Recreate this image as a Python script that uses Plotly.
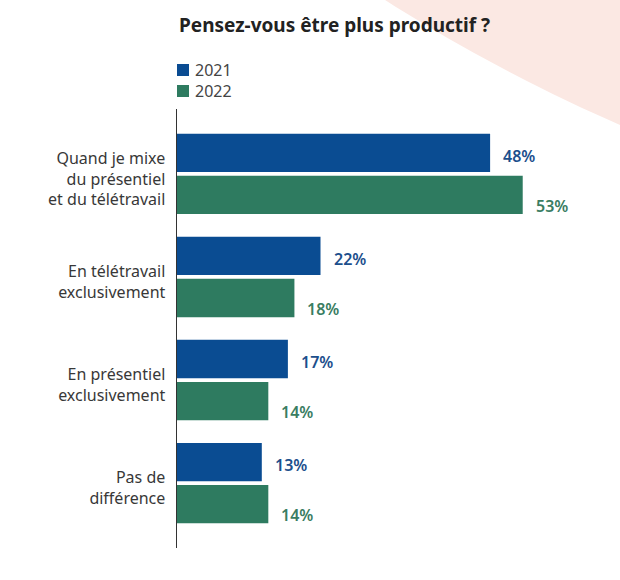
import math
import plotly.graph_objects as go

categories = ["Quand je mixe<br>du présentiel<br>et du télétravail",
              "En télétravail<br>exclusivement",
              "En présentiel<br>exclusivement",
              "Pas de<br>différence"]
series_names = ["2021", "2022"]
values_2021 = [48, 22, 17, 13]
values_2022 = [53, 18, 14, 14]
title_text = "Pensez-vous être plus productif ?"

bar_colors = ["#0a4c92", "#2e7b60"]
text_colors = ["#1c4f8c", "#3a7d62"]
FONT = "Noto Sans"

# plot area geometry (pixels)
W, H = 620, 580
ml, mr, mt, mb = 177, 19, 109, 32
pw, ph = W - ml - mr, H - mt - mb

def px_to_paper_x(px):
    return (px - ml) / pw
def px_to_paper_y(py):
    return (H - mb - py) / ph

fig = go.Figure()
for name, vals, col in zip(series_names, [values_2021, values_2022], bar_colors):
    fig.add_trace(go.Bar(y=categories, x=vals, orientation="h", name=name,
                         marker=dict(color=col, line=dict(width=0)),
                         showlegend=False, hoverinfo="skip"))

annotations = []
for i, (vals, tcol) in enumerate(zip([values_2021, values_2022], text_colors)):
    ysh = 18 if i == 0 else -32
    for cat, v in zip(categories, vals):
        annotations.append(dict(x=v, y=cat, xref="x", yref="y", text=f"{v}%",
                                showarrow=False, xanchor="left", yanchor="middle",
                                xshift=11, yshift=ysh,
                                font=dict(family=FONT, size=16, color=tcol, weight=600)))

# title
annotations.append(dict(x=0, xref="paper", y=px_to_paper_y(25), yref="paper",
                        text=title_text, showarrow=False, xanchor="left", yanchor="middle",
                        font=dict(family=FONT, size=19, color="#222222", weight="bold")))

shapes = []
# pink arc in the background: polygon approximating a large circle
cx, cy, R = 1310, -1456, 1725
pts = []
for a in range(100, 131):
    t = math.radians(a)
    pts.append((cx + R * math.cos(t), cy + R * math.sin(t)))
pts += [(900, -300), (900, 300)]
path = "M " + " L ".join(f"{px_to_paper_x(x):.5f},{px_to_paper_y(y):.5f}" for x, y in pts) + " Z"
shapes.append(dict(type="path", xref="paper", yref="paper", layer="below",
                   path=path, fillcolor="#fbe8e3", line=dict(width=0)))

# manual legend
for k, (name, col) in enumerate(zip(series_names, bar_colors)):
    yc = 70 + 21 * k
    shapes.append(dict(type="rect", xref="paper", yref="paper",
                       x0=px_to_paper_x(177), x1=px_to_paper_x(189),
                       y0=px_to_paper_y(yc + 6), y1=px_to_paper_y(yc - 6),
                       fillcolor=col, line=dict(width=0)))
    annotations.append(dict(x=px_to_paper_x(193), xref="paper", y=px_to_paper_y(yc), yref="paper",
                            text=name, showarrow=False, xanchor="left", yanchor="middle",
                            font=dict(family=FONT, size=16, color="#444444")))

fig.update_layout(
    width=W, height=H,
    margin=dict(l=ml, r=mr, t=mt, b=mb),
    paper_bgcolor="white", plot_bgcolor="rgba(0,0,0,0)",
    barmode="group", bargap=0.184, bargroupgap=0.09,
    annotations=annotations, shapes=shapes,
    xaxis=dict(range=[0, 65], visible=False, fixedrange=True),
    yaxis=dict(autorange=False, range=[3.63, -0.63], showgrid=False, zeroline=False,
               showline=True, linecolor="#333333", linewidth=1.5,
               ticks="", ticklabelstandoff=7, ticklabelshift=-5,
               tickfont=dict(family=FONT, size=16, color="#383838")),
    font=dict(family=FONT),
)

fig.write_html("out.html", config={"displayModeBar": False, "staticPlot": True},
               post_script="document.body.style.margin='0';document.body.style.padding='0';")
